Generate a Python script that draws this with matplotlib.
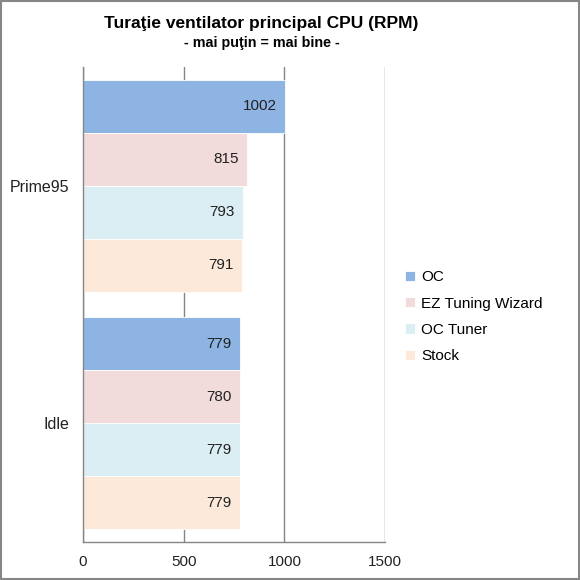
import numpy as np
import matplotlib.pyplot as plt
from matplotlib.patches import Rectangle

plt.rcParams['font.family'] = ['Liberation Sans', 'DejaVu Sans']

# data (bottom category first)
categories = ['Idle', 'Prime95']
series = ['OC', 'EZ Tuning Wizard', 'OC Tuner', 'Stock']
values = {
    'OC': [779, 1002],
    'EZ Tuning Wizard': [780, 815],
    'OC Tuner': [779, 793],
    'Stock': [779, 791],
}
colors = ['#8EB4E3', '#F2DCDB', '#DBEEF4', '#FDE9D9']

fig = plt.figure(figsize=(5.8, 5.8), dpi=100)
ax = fig.add_axes([0.143, 0.0655, 0.521, 0.819])

y = np.arange(len(categories))
h = 0.223
for i, (name, col) in enumerate(zip(series, colors)):
    offs = (1.5 - i) * h
    bars = ax.barh(y + offs, values[name], height=h, color=col,
                   edgecolor='white', linewidth=0.6, label=name, zorder=2)
    for b, v in zip(bars, values[name]):
        ax.annotate(str(v), (b.get_width(), b.get_y() + b.get_height() / 2),
                    xytext=(-6, 0), textcoords='offset points',
                    ha='right', va='center', fontsize=11, color='#222222', zorder=3)

ax.set_xlim(0, 1500)
ax.set_ylim(-0.5, 1.5)
ax.set_xticks([0, 500, 1000, 1500])
ax.set_yticks(y)
ax.set_yticklabels(categories)
ax.tick_params(axis='both', length=0, labelsize=11, colors='#222222')
ax.tick_params(axis='y', labelsize=11.5, pad=10)
ax.tick_params(axis='x', pad=9)
ax.grid(axis='x', color='#868686', linewidth=1, zorder=0)
for s in ['top', 'right']:
    ax.spines[s].set_visible(False)
for s in ['left', 'bottom']:
    ax.spines[s].set_color('#868686')
    ax.spines[s].set_linewidth(1)

fig.text(0.451, 0.960, 'Turaţie ventilator principal CPU (RPM)', ha='center',
         va='center', fontsize=12.5, fontweight='bold')
fig.text(0.451, 0.926, '- mai puţin = mai bine -', ha='center', va='center',
         fontsize=10.3, fontweight='bold')

fig.legend(loc='center left', bbox_to_anchor=(0.687, 0.454), frameon=False,
           fontsize=11, handlelength=0.65, handleheight=0.65, handletextpad=0.45,
           labelspacing=0.8, borderaxespad=0)

fig.patches.append(Rectangle((0.002, 0.002), 0.996, 0.996, transform=fig.transFigure,
                             fill=False, edgecolor='#868686', linewidth=1.5))

fig.savefig('out.png', dpi=100)
